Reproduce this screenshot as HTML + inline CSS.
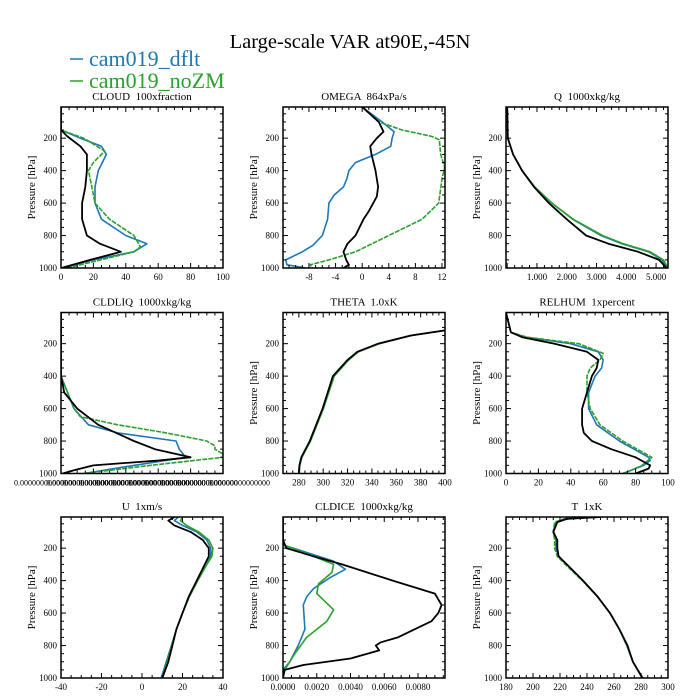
<!DOCTYPE html>
<html><head><meta charset="utf-8">
<style>
html,body{margin:0;padding:0;background:#fff;}
svg{display:block;font-family:"Liberation Serif",serif;}
text{white-space:pre;}
</style></head>
<body>
<svg id="chart" width="700" height="700" viewBox="0 0 700 700" xmlns="http://www.w3.org/2000/svg">
<rect width="700" height="700" fill="#fff"/>
<text x="350" y="48" font-size="20.5" text-anchor="middle">Large-scale VAR at90E,-45N</text>
<g>
<g>
<line x1="70" y1="59" x2="83" y2="59" stroke="#1f77b4" stroke-width="1.5"/>
<text x="89" y="66" font-size="22" fill="#1f77b4">cam019_dflt</text>
</g>
<g>
<line x1="70" y1="81" x2="83" y2="81" stroke="#2ca02c" stroke-width="1.5"/>
<text x="89" y="88" font-size="22" fill="#2ca02c">cam019_noZM</text>
</g>
</g>
<g id="panels"></g>
</svg>
<script>
// ---- Data (pressure levels in hPa, values per series) ----
// CLOUD
const cloudBlkP=[8,150,190,250,300,400,500,600,700,800,850,900,950,1000];
const cloudBlk=[0,0,4,12,16,16,15,13,13,16,24,37,18,0];
const cloudBluP=[8,150,200,250,300,400,500,600,700,800,850,900,950,1000];
const cloudBlu=[0,0,12,25,28,23,21,21,25,40,53,45,20,2];
const cloudGrnP=[8,150,200,280,350,400,500,600,700,800,870,900,1000];
const cloudGrn=[0,0,14,27,20,17,19,21,30,45,49,45,4];
// OMEGA
const omgBlkP=[8,100,160,200,250,300,400,500,560,650,700,800,850,900,950,980,1000];
const omgBlk=[0,2.5,3.2,2.2,1.2,1.4,2,2.4,2.2,1,0.2,-1,-2.2,-2.8,-2.4,-2,-2.8];
const omgBluP=[8,100,160,200,250,300,350,400,450,500,550,600,700,800,860,900,950,980,1000];
const omgBlu=[0,3,4.8,4.5,4.3,2,-1,-2,-2.3,-2.8,-4.2,-5,-5.2,-6,-7.4,-9,-11.5,-11.3,-8.5];
const omgGrnP=[8,100,150,190,210,300,380,450,600,700,800,900,950,980,1000];
const omgGrn=[0,2.5,6,10.5,11.6,11.8,12.4,12,11.5,9,4,-1,-5,-7.8,-7.5];
// Q
const qBlkP=[8,200,300,400,500,600,700,800,850,900,950,1000];
const qBlk=[0,0.02,0.2,0.5,0.9,1.4,2.0,2.65,3.4,4.4,5.1,5.35];
const qBluP=[8,200,300,400,500,600,700,800,850,900,950,1000];
const qBlu=[0,0.02,0.2,0.5,0.92,1.5,2.2,3.15,3.85,4.75,5.2,5.38];
const qGrnP=[8,200,300,400,500,600,700,800,850,900,950,1000];
const qGrn=[0,0.02,0.2,0.5,0.92,1.5,2.22,3.2,3.9,4.8,5.25,5.4];
// CLDLIQ (relative scale)
const liqBlkP=[8,400,500,600,700,800,850,900,920,950,980,1000];
const liqBlk=[0,0,0.02,0.1,0.23,0.45,0.58,0.8,0.6,0.2,0.08,0.01];
const liqBluP=[8,400,600,700,750,800,850,900,950,1000];
const liqBlu=[0,0,0.08,0.17,0.35,0.71,0.73,0.77,0.45,0.14];
const liqGrnP=[8,400,600,650,700,750,800,830,850,880,900,950,1000];
const liqGrn=[0,0,0.08,0.12,0.35,0.65,0.9,0.95,0.95,1.0,1.0,0.55,0.14];
// THETA
const thBlkP=[118,150,200,250,300,400,600,800,900,950,1000];
const thBlk=[400,372,345,328,320,308,299.5,289,282,280.5,280];
const thBluP=[118,150,200,250,300,400,600,800,900,950,1000];
const thBlu=[400,372,345.5,328.5,320.5,308.5,300,289.5,282.3,280.7,280.2];
const thGrnP=[118,150,200,250,300,400,600,800,900,950,1000];
const thGrn=[400,372.5,346,329,321,309,300.2,289.6,282.5,280.8,280.3];
// RELHUM
const rhBlkP=[8,130,160,200,250,300,350,400,500,600,700,750,800,850,900,950,970,1000];
const rhBlk=[0,3,10,30,50,57,56,53,50,47,47,48,53,65,80,89,88,80];
const rhBluP=[8,130,160,200,250,300,350,400,500,600,700,800,900,920,950,1000];
const rhBlu=[0,3,12,40,57,60,59,55,51,51,56,70,88,89,85,72];
const rhGrnP=[8,130,160,200,260,300,350,400,500,600,700,800,900,950,1000];
const rhGrn=[0,3,13,45,60,58,52,50,50,52,58,72,90,84,73];
// U
const uBlkP=[8,30,60,100,150,200,250,300,400,500,600,700,800,900,1000];
const uBlk=[16,13,16,24,30,33,33,31,27,23,20,17,15,13,10];
const uBluP=[8,30,60,100,150,200,250,300,400,500,600,700,800,900,1000];
const uBlu=[18,16,20,27,32,34,34,32,27.5,23.3,20,17,14.5,12,9.5];
const uGrnP=[8,30,60,100,150,200,250,300,400,500,600,700,800,900,1000];
const uGrn=[20,19,22,28,33,35,34.5,32,27.5,23.3,20,17,14.7,12.5,10];
// CLDICE
const iceBlkP=[8,150,200,250,300,400,480,550,600,650,700,750,780,800,830,880,920,950,1000];
const iceBlk=[0,0,0.0002,0.0018,0.0035,0.0065,0.009,0.0094,0.0092,0.0088,0.0078,0.0068,0.0058,0.0055,0.0057,0.004,0.0012,0.0001,0];
const iceBluP=[8,180,220,280,330,380,450,500,550,700,800,900,950,1000];
const iceBlu=[0,0,0.0012,0.003,0.0037,0.0028,0.0018,0.0014,0.0012,0.0013,0.0009,0.0004,0,0];
const iceGrnP=[8,180,250,300,350,420,480,530,580,650,750,850,950,1000];
const iceGrn=[0,0,0.0018,0.003,0.0029,0.0021,0.002,0.0025,0.003,0.0026,0.0014,0.0007,0.0001,0];
// T
const tBlkP=[8,15,20,40,100,150,200,250,300,400,500,600,700,800,900,1000];
const tBlk=[250,235,225,218,215,218,218,219,225,237,248,257,264,270,274,281];
const tBluP=[8,15,20,40,100,150,200,250,300,400,500,600,700,800,900,1000];
const tBlu=[250,234,224,217,215,217,217,219,225,237,248,257,264,269.5,274,281];
const tGrnP=[8,15,20,40,100,150,200,250,300,400,500,600,700,800,900,1000];
const tGrn=[252,233,223,216,215,216,216,218,224,236.5,248,257,264,269.5,274,281.5];

// tick labels
const cloudTicks=[0,20,40,60,80,100];
const omgTicks=[-8,-4,0,4,8,12];
const qTicks=[1,2,3,4,5];
const thTicks=[280,300,320,340,360,380,400];
const rhTicks=[0,20,40,60,80,100];
const uTicks=[-40,-20,0,20,40];
const iceTicks=[0,0.002,0.004,0.006,0.008];
const tTicks=[180,200,220,240,260,280,300];
const pTicks=[200,400,600,800,1000];

const NS="http://www.w3.org/2000/svg";
const root=document.getElementById('panels');
const COLS=[61,283,506], ROWS=[107,312.5,517], W=162, H=161;
const PMIN=8, PMAX=1000;
const BLUE="#1f77b4", GREEN="#2ca02c";

function mk(tag,attrs,parent){const e=document.createElementNS(NS,tag);for(const k in attrs)e.setAttribute(k,attrs[k]);parent.appendChild(e);return e;}

const panels=[
 {name:"cloud",title:"CLOUD  100xfraction",c:0,r:0,xmin:0,xmax:100,ticks:cloudTicks,fmt:v=>String(v),minor:4,ylab:true,
  s:[[cloudBluP,cloudBlu,BLUE,false],[cloudGrnP,cloudGrn,GREEN,true],[cloudBlkP,cloudBlk,"#000",false]]},
 {name:"omega",title:"OMEGA  864xPa/s",c:1,r:0,xmin:-11.9,xmax:12.45,ticks:omgTicks,fmt:v=>String(v),minor:4,ylab:true,
  s:[[omgBluP,omgBlu,BLUE,false],[omgGrnP,omgGrn,GREEN,true],[omgBlkP,omgBlk,"#000",false]]},
 {name:"q",title:"Q  1000xkg/kg",c:2,r:0,xmin:-0.04,xmax:5.4,ticks:qTicks,fmt:v=>v.toFixed(3),minor:4,ylab:true,
  s:[[qBluP,qBlu,BLUE,false],[qGrnP,qGrn,GREEN,false],[qBlkP,qBlk,"#000",false]]},
 {name:"cldliq",title:"CLDLIQ  1000xkg/kg",c:0,r:1,xmin:0,xmax:1.0,ticks:[],fmt:v=>"",minor:0,ylab:false,liq:true,
  s:[[liqBluP,liqBlu,BLUE,false],[liqGrnP,liqGrn,GREEN,true],[liqBlkP,liqBlk,"#000",false]]},
 {name:"theta",title:"THETA  1.0xK",c:1,r:1,xmin:267,xmax:400,ticks:thTicks,fmt:v=>String(v),minor:4,ylab:true,
  s:[[thBluP,thBlu,BLUE,false],[thGrnP,thGrn,GREEN,false],[thBlkP,thBlk,"#000",false]]},
 {name:"relhum",title:"RELHUM  1xpercent",c:2,r:1,xmin:0,xmax:100,ticks:rhTicks,fmt:v=>String(v),minor:4,ylab:true,
  s:[[rhBluP,rhBlu,BLUE,false],[rhGrnP,rhGrn,GREEN,true],[rhBlkP,rhBlk,"#000",false]]},
 {name:"u",title:"U  1xm/s",c:0,r:2,xmin:-40,xmax:40,ticks:uTicks,fmt:v=>String(v),minor:4,ylab:true,
  s:[[uBluP,uBlu,BLUE,false],[uGrnP,uGrn,GREEN,false],[uBlkP,uBlk,"#000",false]]},
 {name:"cldice",title:"CLDICE  1000xkg/kg",c:1,r:2,xmin:0,xmax:0.0096,ticks:iceTicks,fmt:v=>v.toFixed(4),minor:4,ylab:true,
  s:[[iceBluP,iceBlu,BLUE,false],[iceGrnP,iceGrn,GREEN,false],[iceBlkP,iceBlk,"#000",false]]},
 {name:"t",title:"T  1xK",c:2,r:2,xmin:180,xmax:300,ticks:tTicks,fmt:v=>String(v),minor:4,ylab:true,
  s:[[tBluP,tBlu,BLUE,false],[tGrnP,tGrn,GREEN,true],[tBlkP,tBlk,"#000",false]]}
];

panels.forEach(pn=>{
  const L=COLS[pn.c], T=ROWS[pn.r], R=L+W, B=T+H;
  const xs=v=>L+(v-pn.xmin)/(pn.xmax-pn.xmin)*W;
  const ys=p=>T+(p-PMIN)/(PMAX-PMIN)*H;
  const g=mk('g',{},root);
  
  
  const tt=mk('text',{x:L+W/2,y:T-7,'font-size':11,'text-anchor':'middle'},g);
  tt.textContent=pn.title;
  
  
  const cid='clip-'+pn.name;
  const cp=mk('clipPath',{id:cid},g);
  mk('rect',{x:L,y:T,width:W,height:H},cp);
  pn.s.forEach((s,i)=>{
    const [P,V,col,dash]=s;
    const pts=P.map((p,k)=>xs(V[k]).toFixed(1)+','+ys(p).toFixed(1)).join(' ');
    const pl=mk('polyline',{points:pts,fill:'none',stroke:col,'stroke-width':col==="#000"?1.8:1.6,'stroke-linejoin':'round','clip-path':'url(#'+cid+')'},g);
    if(dash) pl.setAttribute('stroke-dasharray','5,1.2');
    
    
  });
  const fr=mk('rect',{x:L,y:T,width:W,height:H,fill:'none',stroke:'#000','stroke-width':1.5},g);
  
  
  for(let p=50;p<=1000;p+=50){
    const y=ys(p); const maj=p%200===0; const len=maj?5:3;
    mk('line',{x1:L,y1:y,x2:L+len,y2:y,stroke:'#000','stroke-width':1},g);
    mk('line',{x1:R,y1:y,x2:R-len,y2:y,stroke:'#000','stroke-width':1},g);
  }
  pTicks.forEach(p=>{
    const t=mk('text',{x:L-4,y:ys(p)+3,'font-size':9,'text-anchor':'end'},g);
    t.textContent=String(p);
    
    
  });
  if(pn.ylab){
    const yl=mk('text',{x:0,y:0,'font-size':11,'text-anchor':'middle',transform:'translate('+(L-26)+','+(T+H/2)+') rotate(-90)'},g);
    yl.textContent='Pressure [hPa]';
    
    
  }
  if(pn.ticks.length>1){
    const step=pn.ticks[1]-pn.ticks[0];
    const sub=step/pn.minor;
    const start=pn.ticks[0]-Math.floor((pn.ticks[0]-pn.xmin)/sub)*sub;
    for(let v=start;v<=pn.xmax+1e-9;v+=sub){
      const x=xs(v); if(x<L-0.1||x>R+0.1) continue;
      const k=Math.round((v-pn.ticks[0])/sub); const maj=k%pn.minor===0; const len=maj?5:3;
      mk('line',{x1:x,y1:B,x2:x,y2:B-len,stroke:'#000','stroke-width':1},g);
      mk('line',{x1:x,y1:T,x2:x,y2:T+len,stroke:'#000','stroke-width':1},g);
    }
    pn.ticks.forEach(v=>{
      const t=mk('text',{x:xs(v),y:B+12,'font-size':9,'text-anchor':'middle'},g);
      t.textContent=pn.fmt(v);
      
      
    });
  }
  if(pn.liq){
    for(let i=0;i<=20;i++){
      const x=L+i*W/20;
      const len=(i%4===0)?5:3;
      mk('line',{x1:x,y1:B,x2:x,y2:B-len,stroke:'#000','stroke-width':1},g);
      mk('line',{x1:x,y1:T,x2:x,y2:T+len,stroke:'#000','stroke-width':1},g);
    }
    for(let i=0;i<=10;i++){
      const t=mk('text',{x:L+i*W/10+(i===0?-16:0)+(i===10?16:0),y:B+12,'font-size':8,'text-anchor':'middle'},g);
      t.textContent='0.00000000000000';
      
      
    }
  }
});
</script>
</body></html>
